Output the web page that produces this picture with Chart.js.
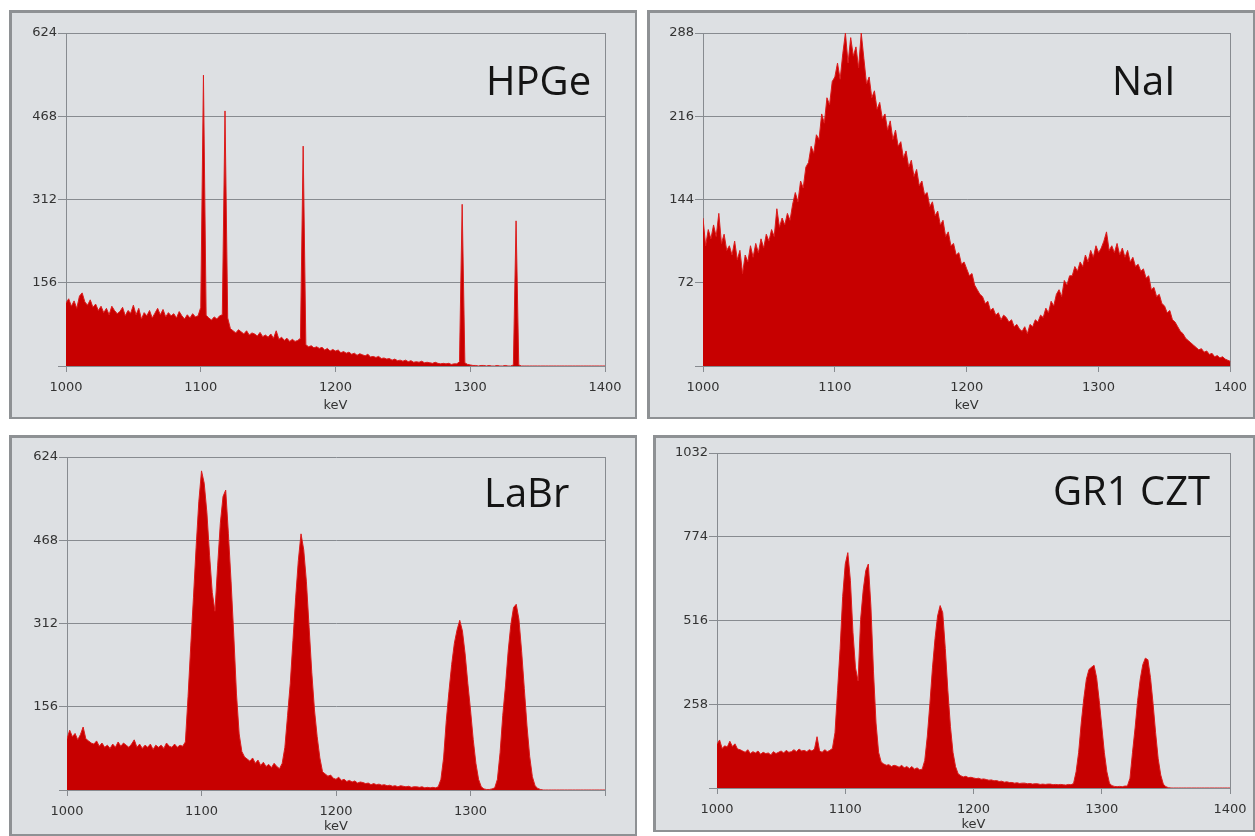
<!DOCTYPE html>
<html>
<head>
<meta charset="utf-8">
<title>Gamma spectra: HPGe, NaI, LaBr, GR1 CZT</title>
<script src="https://cdn.jsdelivr.net/npm/chart.js@4.4.1/dist/chart.umd.min.js"></script>
<style>
  html, body { margin: 0; padding: 0; background: #fff; }
  body { width: 1255px; height: 836px; position: relative; overflow: hidden; }
  .panel { position: absolute; box-sizing: border-box; background: #dde0e3;
           border: 2px solid #8e9194; border-top-width: 3px; border-left-width: 3px; }
  .plot { position: absolute; }
  .tag { position: absolute; font-family: "Open Sans", sans-serif; font-size: 40px;
         line-height: 40px; color: #141414; white-space: nowrap; }
</style>
</head>
<body>

<div class="panel" style="left:9px;top:10px;width:628px;height:409px"></div>
<div class="panel" style="left:647px;top:10px;width:608px;height:409px"></div>
<div class="panel" style="left:9px;top:435px;width:628px;height:401px"></div>
<div class="panel" style="left:653px;top:435px;width:602px;height:397px"></div>

<div class="plot" id="hpge"><canvas></canvas></div>
<div class="plot" id="nai"><canvas></canvas></div>
<div class="plot" id="labr"><canvas></canvas></div>
<div class="plot" id="czt"><canvas></canvas></div>

<div class="tag" style="left:486px;top:60px">HPGe</div>
<div class="tag" style="left:1112px;top:60px">NaI</div>
<div class="tag" style="left:484px;top:472px">LaBr</div>
<div class="tag" style="left:1053px;top:470px">GR1 CZT</div>

<script>
// spectra, one value every 2 keV from 1000 to 1400 keV
const keVStart = 1000;
const keVStep = 2;

const hpgeCounts = [
  118, 126, 112, 122, 108, 131, 137, 120, 114, 124,
  110, 116, 104, 112, 100, 108, 96, 112, 104, 98,
  102, 110, 94, 104, 99, 114, 96, 108, 88, 100,
  94, 104, 90, 99, 108, 96, 106, 92, 100, 94,
  98, 90, 102, 94, 88, 96, 90, 98, 92, 94,
  110, 545, 95, 90, 86, 92, 88, 94, 96, 478,
  90, 70, 66, 62, 68, 64, 60, 66, 58, 62,
  60, 56, 63, 55, 58, 54, 60, 52, 66, 50,
  54, 48, 52, 46, 50, 46, 48, 52, 412, 40,
  36, 38, 34, 36, 33, 35, 30, 33, 28, 31,
  28, 30, 25, 27, 24, 26, 22, 24, 20, 23,
  21, 19, 22, 17, 18, 16, 18, 14, 15, 13,
  14, 11, 13, 10, 11, 9, 11, 8, 10, 7,
  8, 7, 9, 6, 7, 6, 5, 7, 5, 4,
  5, 4, 5, 3, 4, 4, 8, 303, 6, 3,
  2, 1, 1, 0, 1, 1, 0, 1, 0, 0,
  1, 0, 0, 1, 0, 0, 2, 272, 2, 0,
  0, 0, 0, 0, 0, 0, 0, 0, 0, 0,
  0, 0, 0, 0, 0, 0, 0, 0, 0, 0,
  0, 0, 0, 0, 0, 0, 0, 0, 0, 0,
  0
];

const naiCounts = [
  128, 104, 118, 110, 122, 112, 132, 106, 114, 100,
  104, 96, 108, 92, 100, 80, 96, 90, 104, 94,
  106, 98, 110, 102, 114, 108, 118, 112, 136, 120,
  128, 122, 132, 126, 140, 150, 142, 160, 154, 172,
  176, 190, 184, 200, 196, 218, 210, 232, 226, 246,
  250, 262, 248, 270, 288, 262, 284, 268, 276, 258,
  288, 266, 244, 250, 232, 238, 222, 228, 214, 218,
  204, 212, 196, 204, 190, 194, 180, 186, 172, 178,
  164, 170, 156, 160, 148, 150, 138, 142, 130, 134,
  122, 126, 112, 116, 104, 106, 96, 98, 88, 90,
  84, 78, 80, 70, 66, 62, 60, 54, 56, 48,
  50, 44, 46, 40, 44, 42, 38, 40, 34, 36,
  32, 30, 34, 28, 36, 34, 40, 38, 44, 42,
  50, 46, 56, 52, 62, 66, 60, 74, 70, 78,
  78, 86, 82, 90, 86, 96, 90, 100, 94, 104,
  98, 102, 108, 116, 100, 104, 98, 106, 96, 102,
  94, 100, 90, 94, 86, 88, 82, 84, 76, 78,
  66, 68, 60, 62, 54, 52, 46, 48, 40, 38,
  34, 30, 28, 24, 22, 20, 18, 16, 14, 15,
  12, 13, 10, 11, 8, 9, 7, 8, 6, 5,
  4
];

const labrCounts = [
  96, 112, 100, 106, 94, 104, 118, 96, 92, 88,
  86, 92, 82, 88, 80, 84, 78, 86, 80, 90,
  82, 88, 84, 80, 86, 94, 80, 86, 78, 84,
  80, 86, 76, 84, 80, 84, 78, 88, 82, 80,
  86, 80, 84, 82, 90, 175, 270, 360, 455, 540,
  598, 575, 520, 440, 370, 335, 420, 500, 550, 562,
  480, 390, 290, 180, 105, 72, 62, 58, 54, 60,
  50, 56, 46, 52, 44, 48, 42, 50, 44, 40,
  50, 80, 140, 200, 280, 360, 430, 480, 450, 390,
  305, 220, 150, 100, 60, 34, 30, 26, 28, 22,
  20, 24, 18, 20, 16, 18, 15, 17, 13, 15,
  14, 12, 13, 10, 12, 10, 11, 9, 10, 8,
  9, 7, 8, 6, 8, 7, 6, 7, 5, 6,
  6, 5, 6, 4, 5, 4, 5, 4, 6, 20,
  60, 130, 185, 235, 275, 300, 318, 298, 255, 200,
  150, 95, 50, 20, 6, 2, 1, 1, 2, 4,
  20, 70, 140, 195, 260, 310, 342, 348, 320, 260,
  190, 120, 63, 25, 8, 3, 1, 0, 0, 0,
  0, 0, 0, 0, 0, 0, 0, 0, 0, 0,
  0, 0, 0, 0, 0, 0, 0, 0, 0, 0,
  0
];

const cztCounts = [
  135, 148, 122, 130, 126, 144, 128, 136, 120, 118,
  114, 110, 118, 106, 112, 108, 114, 104, 110, 106,
  108, 102, 112, 106, 110, 114, 108, 116, 110, 112,
  118, 112, 120, 114, 116, 112, 118, 114, 120, 158,
  114, 110, 118, 112, 116, 122, 170, 300, 430, 590,
  690, 725, 640, 480, 370, 330, 520, 610, 670, 690,
  560, 360, 200, 110, 80, 74, 70, 72, 66, 70,
  68, 64, 70, 62, 66, 60, 66, 58, 62, 56,
  58, 85, 160, 260, 370, 460, 530, 562, 540, 430,
  300, 190, 110, 66, 44, 38, 34, 36, 32, 33,
  31, 29, 30, 27, 28, 26, 24, 25, 22, 23,
  20, 21, 18, 19, 17, 17, 15, 16, 14, 15,
  15, 13, 14, 12, 13, 13, 11, 12, 11, 12,
  12, 10, 11, 10, 11, 10, 9, 11, 10, 14,
  50, 110, 200, 275, 335, 365, 372, 378, 340, 270,
  190, 110, 50, 15, 7, 5, 4, 5, 4, 6,
  6, 30, 110, 185, 270, 335, 380, 400, 395, 340,
  260, 170, 90, 40, 12, 4, 1, 0, 0, 0,
  0, 0, 0, 0, 0, 0, 0, 0, 0, 0,
  0, 0, 0, 0, 0, 0, 0, 0, 0, 0,
  0
];

const xTicks = { min: 1000, max: 1400, step: 100 };

// box = panel [left, top, width, height], plot = [left, top, right, bottom]
const panels = [
  { id: 'hpge', counts: hpgeCounts, yMax: 624, yStep: 156, box: [9, 10, 628, 409], plot: [66, 33, 605, 366], titlePad: 6, lastLabel: true },
  { id: 'nai', counts: naiCounts, yMax: 288, yStep: 72, box: [647, 10, 608, 409], plot: [703, 33, 1232, 366], titlePad: 6, lastLabel: true },
  { id: 'labr', counts: labrCounts, yMax: 624, yStep: 156, box: [9, 435, 628, 401], plot: [67, 457, 605, 790], titlePad: 2, lastLabel: false },
  { id: 'czt', counts: cztCounts, yMax: 1032, yStep: 258, box: [653, 435, 602, 397], plot: [717, 453, 1230, 788], titlePad: 0, lastLabel: true }
];

const axisGrey = '#878b90';
const tickFont = { family: 'DejaVu Sans', size: 13 };

function makeChart(p) {
  const wrap = document.getElementById(p.id);
  const [bx, by, bw, bh] = p.box;
  const [pl, pt, pr, pb] = p.plot;
  wrap.style.left = bx + 'px';
  wrap.style.top = by + 'px';
  wrap.style.width = bw + 'px';
  wrap.style.height = bh + 'px';

  const points = p.counts.map((c, i) => ({ x: keVStart + i * keVStep, y: c }));

  new Chart(wrap.querySelector('canvas'), {
    type: 'line',
    data: {
      datasets: [{
        data: points,
        fill: 'origin',
        backgroundColor: '#c70000',
        borderColor: '#dc1c1c',
        borderWidth: 1,
        pointRadius: 0,
        tension: 0
      }]
    },
    options: {
      responsive: true,
      maintainAspectRatio: false,
      animation: false,
      layout: { padding: { top: pt - by, right: bx + bw - pr, left: 0, bottom: 0 } },
      plugins: { legend: { display: false }, tooltip: { enabled: false } },
      scales: {
        x: {
          type: 'linear',
          min: xTicks.min,
          max: xTicks.max,
          ticks: {
            stepSize: xTicks.step,
            color: '#333',
            font: tickFont,
            padding: 8,
            maxRotation: 0,
            autoSkip: false,
            callback: v => (v === xTicks.max && !p.lastLabel) ? '' : String(v)
          },
          grid: {
            drawOnChartArea: true,
            color: ctx => (ctx.tick && ctx.tick.value === xTicks.max) ? axisGrey : 'rgba(0,0,0,0)',
            tickColor: axisGrey,
            tickLength: 6
          },
          border: { color: axisGrey },
          title: {
            display: true,
            text: 'keV',
            color: '#333',
            font: tickFont,
            padding: { top: 0, bottom: p.titlePad }
          },
          afterFit: s => { s.height = by + bh - pb; }
        },
        y: {
          min: 0,
          max: p.yMax,
          ticks: {
            stepSize: p.yStep,
            color: '#333',
            font: tickFont,
            padding: 1,
            callback: v => v === 0 ? '' : String(v)
          },
          grid: { color: axisGrey, tickColor: axisGrey, tickLength: 8 },
          border: { color: axisGrey },
          afterFit: s => { s.width = pl - bx; }
        }
      }
    }
  });
}

panels.forEach(makeChart);
</script>
</body>
</html>
